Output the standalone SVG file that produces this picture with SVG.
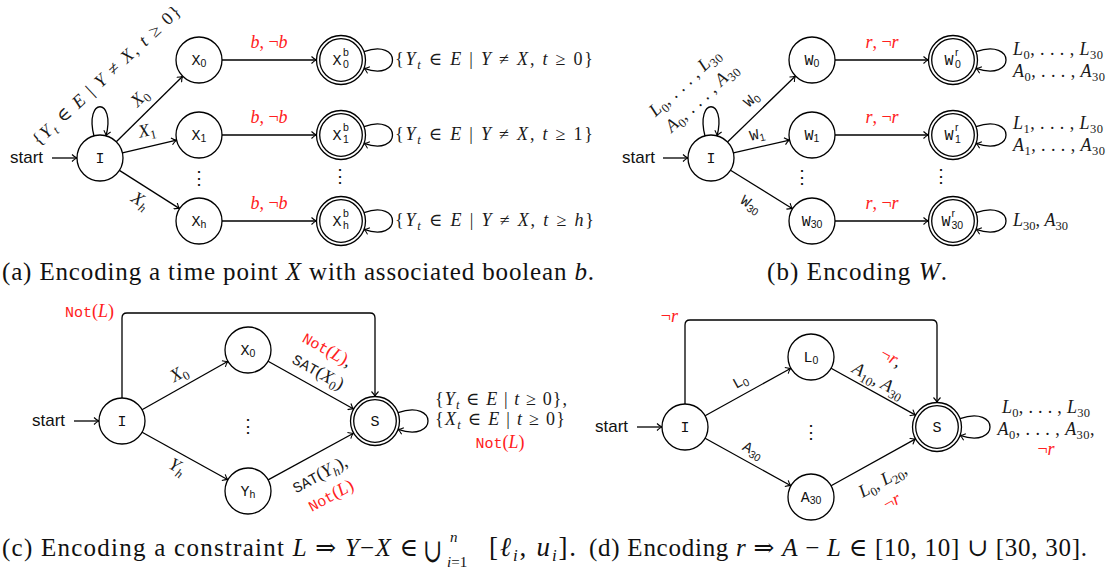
<svg xmlns="http://www.w3.org/2000/svg" width="1115" height="577" viewBox="0 0 1115 577">
<style>
.n{fill:#fff;stroke:#000;stroke-width:1.3}
.e{fill:none;stroke:#000;stroke-width:1.3;marker-end:url(#ar)}
.l{fill:none;stroke:#000;stroke-width:1.3}
.nl{font-family:"Liberation Mono",monospace;font-size:15px;fill:#111;text-anchor:middle}
.ns{font-family:"Liberation Sans",sans-serif;font-size:10.5px;fill:#111}
.m{font-family:"Liberation Serif","DejaVu Serif",serif;font-size:18px;fill:#1a1a1a}
.i{font-style:italic}
.s{font-size:12.5px}
.tt{font-family:"Liberation Mono",monospace;font-size:15px}
.tts{font-family:"Liberation Sans",sans-serif;font-size:10.5px}
.r{fill:#ff2020}
.st{font-family:"Liberation Sans",sans-serif;font-size:17px;fill:#111}
.cap{font-family:"Liberation Serif","DejaVu Serif",serif;font-size:25px;fill:#111}
.dots{font-family:"DejaVu Serif",serif;font-size:18px;fill:#111;text-anchor:middle}
</style>
<defs>
<marker id="ar" markerWidth="7" markerHeight="8" viewBox="-6 -4 7 8" refX="0" refY="0" orient="auto" markerUnits="userSpaceOnUse">
<path d="M-5,-3.5 Q-2,-0.6 0,0 Q-2,0.6 -5,3.5" fill="none" stroke="#000" stroke-width="1.1"/>
</marker>
</defs>

<g id="connectors">
<!-- (a) -->
<path class="e" d="M52,158 H77"/>
<path class="e" d="M94,136 C84,97 116,97 106,136"/>
<path class="e" d="M116.3,141.8 L182.7,76.2"/>
<path class="e" d="M122.4,152.8 L176.6,140.2"/>
<path class="e" d="M119.4,170.4 L179.6,208.6"/>
<path class="e" d="M222,60 H316.5"/>
<path class="e" d="M222,135 H316.5"/>
<path class="e" d="M222,221 H316.5"/>
<path class="e" d="M364,51.6 C402,38 402,82 364,68.4"/>
<path class="e" d="M364,126.6 C402,113 402,157 364,143.4"/>
<path class="e" d="M364,212.6 C402,199 402,243 364,229.4"/>
<!-- (b) -->
<path class="e" d="M663,158 H688"/>
<path class="e" d="M705,136 C695,97 727,97 717,136"/>
<path class="e" d="M727.5,142 L795.5,76"/>
<path class="e" d="M733.4,152.9 L789.6,140.1"/>
<path class="e" d="M730.5,170.2 L792.5,208.8"/>
<path class="e" d="M835,60 H928.5"/>
<path class="e" d="M835,135 H928.5"/>
<path class="e" d="M835,221 H928.5"/>
<path class="e" d="M976,51.6 C1016,38 1016,82 976,68.4"/>
<path class="e" d="M976,126.6 C1016,113 1016,157 976,143.4"/>
<path class="e" d="M976,212.6 C1016,199 1016,243 976,229.4"/>
<!-- (c) -->
<path class="e" d="M74,421 H99"/>
<path class="e" d="M142,409.7 L228,361.3"/>
<path class="e" d="M142.1,432.2 L227.9,479.8"/>
<path class="e" d="M268.1,361.2 L353.6,409"/>
<path class="e" d="M268.1,479.9 L353.5,433.2"/>
<path class="e" d="M122,398 V318 Q122,313 127,313 H370 Q375,313 375,318 V396.5"/>
<path class="e" d="M398,412.6 C438,399 438,443 398,429.4"/>
<!-- (d) -->
<path class="e" d="M637,427 H662"/>
<path class="e" d="M705.1,415.8 L790.9,368.2"/>
<path class="e" d="M705.1,438.2 L790.9,485.8"/>
<path class="e" d="M831.1,368.2 L915.6,415.1"/>
<path class="e" d="M831.1,485.8 L915.6,438.9"/>
<path class="e" d="M685,404 V325 Q685,320 690,320 H932 Q937,320 937,325 V402.5"/>
<path class="e" d="M960,418.6 C1000,405 1000,449 960,435.4"/>
</g>

<!-- ===== (a) nodes ===== -->
<g id="a-I"><circle class="n" cx="100" cy="158" r="23"/><text class="nl" x="100" y="163">I</text></g>
<g id="a-X0"><circle class="n" cx="199" cy="60" r="23"/><text class="nl" x="199" y="65">X<tspan class="ns" dy="2">0</tspan></text></g>
<g id="a-X1"><circle class="n" cx="199" cy="135" r="23"/><text class="nl" x="199" y="140">X<tspan class="ns" dy="2">1</tspan></text></g>
<g id="a-Xh"><circle class="n" cx="199" cy="221" r="23"/><text class="nl" x="199" y="226">X<tspan class="ns" dy="2">h</tspan></text></g>
<g id="a-X0b"><circle class="n" cx="341" cy="60" r="24.5"/><circle class="l" cx="341" cy="60" r="21.3"/><text class="nl" x="337" y="65">X</text><text class="ns" x="343" y="56">b</text><text class="ns" x="343" y="68">0</text></g>
<g id="a-X1b"><circle class="n" cx="341" cy="135" r="24.5"/><circle class="l" cx="341" cy="135" r="21.3"/><text class="nl" x="337" y="140">X</text><text class="ns" x="343" y="131">b</text><text class="ns" x="343" y="143">1</text></g>
<g id="a-Xhb"><circle class="n" cx="341" cy="221" r="24.5"/><circle class="l" cx="341" cy="221" r="21.3"/><text class="nl" x="337" y="226">X</text><text class="ns" x="343" y="217">b</text><text class="ns" x="343" y="229">h</text></g>
<g id="a-labels">
<text class="st" x="10" y="163">start</text>
<text class="dots" x="199" y="184">⋮</text>
<text class="dots" x="340" y="182">⋮</text>
<text class="m" transform="translate(107,76) rotate(-43)" y="5" text-anchor="middle" textLength="196" lengthAdjust="spacing">{<tspan class="i">Y</tspan><tspan class="s i" dy="4">t</tspan><tspan dy="-4"> ∈ </tspan><tspan class="i">E</tspan> | <tspan class="i">Y</tspan> ≠ <tspan class="i">X</tspan>, <tspan class="i">t</tspan> ≥ 0}</text>
<text class="m" transform="translate(140,98) rotate(-45)" y="5" text-anchor="middle"><tspan class="i">X</tspan><tspan class="s" dy="4">0</tspan></text>
<text class="m" transform="translate(147,131) rotate(-13)" y="5" text-anchor="middle"><tspan class="i">X</tspan><tspan class="s" dy="4">1</tspan></text>
<text class="m" transform="translate(140,201) rotate(32.5)" y="5" text-anchor="middle"><tspan class="i">X</tspan><tspan class="s i" dy="4">h</tspan></text>
<text class="m r" x="269" y="48" text-anchor="middle"><tspan class="i">b</tspan>, ¬<tspan class="i">b</tspan></text>
<text class="m r" x="269" y="123" text-anchor="middle"><tspan class="i">b</tspan>, ¬<tspan class="i">b</tspan></text>
<text class="m r" x="269" y="209" text-anchor="middle"><tspan class="i">b</tspan>, ¬<tspan class="i">b</tspan></text>
<text class="m" x="395" y="65" textLength="198" lengthAdjust="spacing">{<tspan class="i">Y</tspan><tspan class="s i" dy="4">t</tspan><tspan dy="-4"> ∈ </tspan><tspan class="i">E</tspan> | <tspan class="i">Y</tspan> ≠ <tspan class="i">X</tspan>, <tspan class="i">t</tspan> ≥ 0}</text>
<text class="m" x="395" y="140" textLength="198" lengthAdjust="spacing">{<tspan class="i">Y</tspan><tspan class="s i" dy="4">t</tspan><tspan dy="-4"> ∈ </tspan><tspan class="i">E</tspan> | <tspan class="i">Y</tspan> ≠ <tspan class="i">X</tspan>, <tspan class="i">t</tspan> ≥ 1}</text>
<text class="m" x="395" y="226" textLength="199" lengthAdjust="spacing">{<tspan class="i">Y</tspan><tspan class="s i" dy="4">t</tspan><tspan dy="-4"> ∈ </tspan><tspan class="i">E</tspan> | <tspan class="i">Y</tspan> ≠ <tspan class="i">X</tspan>, <tspan class="i">t</tspan> ≥ <tspan class="i">h</tspan>}</text>
</g>

<!-- ===== (b) nodes ===== -->
<g id="b-I"><circle class="n" cx="711" cy="158" r="23"/><text class="nl" x="711" y="163">I</text></g>
<g id="b-W0"><circle class="n" cx="812" cy="60" r="23"/><text class="nl" x="812" y="65">W<tspan class="ns" dy="2">0</tspan></text></g>
<g id="b-W1"><circle class="n" cx="812" cy="135" r="23"/><text class="nl" x="812" y="140">W<tspan class="ns" dy="2">1</tspan></text></g>
<g id="b-W30"><circle class="n" cx="812" cy="221" r="23"/><text class="nl" x="812" y="226">W<tspan class="ns" dy="2">30</tspan></text></g>
<g id="b-W0r"><circle class="n" cx="953" cy="60" r="24.5"/><circle class="l" cx="953" cy="60" r="21.3"/><text class="nl" x="949" y="65">W</text><text class="ns" x="955" y="56">r</text><text class="ns" x="955" y="68">0</text></g>
<g id="b-W1r"><circle class="n" cx="953" cy="135" r="24.5"/><circle class="l" cx="953" cy="135" r="21.3"/><text class="nl" x="949" y="140">W</text><text class="ns" x="955" y="131">r</text><text class="ns" x="955" y="143">1</text></g>
<g id="b-W30r"><circle class="n" cx="953" cy="221" r="24.5"/><circle class="l" cx="953" cy="221" r="21.3"/><text class="nl" x="946" y="226">W</text><text class="ns" x="951.5" y="217">r</text><text class="ns" x="951.5" y="229">30</text></g>
<g id="b-labels">
<text class="st" x="622" y="163">start</text>
<text class="dots" x="802" y="183">⋮</text>
<text class="dots" x="941" y="182">⋮</text>
<text class="m" transform="translate(685,83) rotate(-43)" y="5" text-anchor="middle" textLength="90" lengthAdjust="spacing"><tspan class="i">L</tspan><tspan class="s" dy="4">0</tspan><tspan dy="-4">, . . . , </tspan><tspan class="i">L</tspan><tspan class="s" dy="4">30</tspan></text>
<text class="m" transform="translate(702,98) rotate(-43)" y="5" text-anchor="middle" textLength="92" lengthAdjust="spacing"><tspan class="i">A</tspan><tspan class="s" dy="4">0</tspan><tspan dy="-4">, . . . , </tspan><tspan class="i">A</tspan><tspan class="s" dy="4">30</tspan></text>
<text class="m" transform="translate(751,99) rotate(-43.5)" y="5" text-anchor="middle"><tspan class="tt">W</tspan><tspan class="tts" dy="3">0</tspan></text>
<text class="m" transform="translate(757,134) rotate(-14)" y="5" text-anchor="middle"><tspan class="tt">W</tspan><tspan class="tts" dy="3">1</tspan></text>
<text class="m" transform="translate(751,204) rotate(32)" y="5" text-anchor="middle"><tspan class="tt">W</tspan><tspan class="tts" dy="3">30</tspan></text>
<text class="m r" x="882" y="48" text-anchor="middle"><tspan class="i">r</tspan>, ¬<tspan class="i">r</tspan></text>
<text class="m r" x="882" y="123" text-anchor="middle"><tspan class="i">r</tspan>, ¬<tspan class="i">r</tspan></text>
<text class="m r" x="882" y="209" text-anchor="middle"><tspan class="i">r</tspan>, ¬<tspan class="i">r</tspan></text>
<text class="m" x="1013" y="55" textLength="90" lengthAdjust="spacing"><tspan class="i">L</tspan><tspan class="s" dy="4">0</tspan><tspan dy="-4">, . . . , </tspan><tspan class="i">L</tspan><tspan class="s" dy="4">30</tspan></text>
<text class="m" x="1013" y="77" textLength="92" lengthAdjust="spacing"><tspan class="i">A</tspan><tspan class="s" dy="4">0</tspan><tspan dy="-4">, . . . , </tspan><tspan class="i">A</tspan><tspan class="s" dy="4">30</tspan></text>
<text class="m" x="1013" y="129" textLength="90" lengthAdjust="spacing"><tspan class="i">L</tspan><tspan class="s" dy="4">1</tspan><tspan dy="-4">, . . . , </tspan><tspan class="i">L</tspan><tspan class="s" dy="4">30</tspan></text>
<text class="m" x="1013" y="151" textLength="92" lengthAdjust="spacing"><tspan class="i">A</tspan><tspan class="s" dy="4">1</tspan><tspan dy="-4">, . . . , </tspan><tspan class="i">A</tspan><tspan class="s" dy="4">30</tspan></text>
<text class="m" x="1013" y="226"><tspan class="i">L</tspan><tspan class="s" dy="4">30</tspan><tspan dy="-4">, </tspan><tspan class="i">A</tspan><tspan class="s" dy="4">30</tspan></text>
</g>

<!-- ===== (c) nodes ===== -->
<g id="c-I"><circle class="n" cx="122" cy="421" r="23"/><text class="nl" x="122" y="426">I</text></g>
<g id="c-X0"><circle class="n" cx="248" cy="350" r="23"/><text class="nl" x="248" y="355">X<tspan class="ns" dy="2">0</tspan></text></g>
<g id="c-Yh"><circle class="n" cx="248" cy="491" r="23"/><text class="nl" x="248" y="496">Y<tspan class="ns" dy="2">h</tspan></text></g>
<g id="c-S"><circle class="n" cx="375" cy="421" r="24.5"/><circle class="l" cx="375" cy="421" r="21.3"/><text class="nl" x="375" y="426">S</text></g>
<g id="c-labels">
<text class="st" x="32" y="426">start</text>
<text class="dots" x="248" y="432">⋮</text>
<text class="m r" x="114" y="317" text-anchor="end"><tspan class="tt">Not</tspan>(<tspan class="i">L</tspan>)</text>
<text class="m" transform="translate(179,374) rotate(-29)" y="5" text-anchor="middle"><tspan class="i">X</tspan><tspan class="s" dy="4">0</tspan></text>
<text class="m" transform="translate(177,467) rotate(29)" y="5" text-anchor="middle"><tspan class="i">Y</tspan><tspan class="s i" dy="4">h</tspan></text>
<text class="m" transform="translate(327,350) rotate(29.5)" y="5" text-anchor="middle"><tspan class="tt r">Not</tspan><tspan class="r">(</tspan><tspan class="r i">L</tspan><tspan class="r">)</tspan>,</text>
<text class="m" transform="translate(318,372) rotate(29.5)" y="5" text-anchor="middle"><tspan class="tt">SAT</tspan>(<tspan class="i">X</tspan><tspan class="s" dy="4">0</tspan><tspan dy="-4">)</tspan></text>
<text class="m" transform="translate(320,475) rotate(-28)" y="5" text-anchor="middle"><tspan class="tt">SAT</tspan>(<tspan class="i">Y</tspan><tspan class="s i" dy="4">h</tspan><tspan dy="-4">),</tspan></text>
<text class="m r" transform="translate(331,496) rotate(-28)" y="5" text-anchor="middle"><tspan class="tt">Not</tspan>(<tspan class="i">L</tspan>)</text>
<text class="m" x="435" y="405" textLength="132" lengthAdjust="spacing">{<tspan class="i">Y</tspan><tspan class="s i" dy="4">t</tspan><tspan dy="-4"> ∈ </tspan><tspan class="i">E</tspan> | <tspan class="i">t</tspan> ≥ 0},</text>
<text class="m" x="435" y="425" textLength="130" lengthAdjust="spacing">{<tspan class="i">X</tspan><tspan class="s i" dy="4">t</tspan><tspan dy="-4"> ∈ </tspan><tspan class="i">E</tspan> | <tspan class="i">t</tspan> ≥ 0}</text>
<text class="m r" x="500" y="448" text-anchor="middle"><tspan class="tt">Not</tspan>(<tspan class="i">L</tspan>)</text>
</g>

<!-- ===== (d) nodes ===== -->
<g id="d-I"><circle class="n" cx="685" cy="427" r="23"/><text class="nl" x="685" y="432">I</text></g>
<g id="d-L0"><circle class="n" cx="811" cy="357" r="23"/><text class="nl" x="811" y="362">L<tspan class="ns" dy="2">0</tspan></text></g>
<g id="d-A30"><circle class="n" cx="811" cy="497" r="23"/><text class="nl" x="811" y="502">A<tspan class="ns" dy="2">30</tspan></text></g>
<g id="d-S"><circle class="n" cx="937" cy="427" r="24.5"/><circle class="l" cx="937" cy="427" r="21.3"/><text class="nl" x="937" y="432">S</text></g>
<g id="d-labels">
<text class="st" x="595" y="432">start</text>
<text class="dots" x="811" y="438">⋮</text>
<text class="m r i" x="678" y="322" text-anchor="end"><tspan style="font-style:normal">¬</tspan>r</text>
<text class="m" transform="translate(740,381) rotate(-29)" y="5" text-anchor="middle"><tspan class="tt">L</tspan><tspan class="tts" dy="3">0</tspan></text>
<text class="m" transform="translate(753,450) rotate(29)" y="5" text-anchor="middle"><tspan class="tt">A</tspan><tspan class="tts" dy="3">30</tspan></text>
<text class="m" transform="translate(891,358) rotate(29)" y="5" text-anchor="middle"><tspan class="r">¬</tspan><tspan class="r i">r</tspan>,</text>
<text class="m" transform="translate(878,381) rotate(29)" y="5" text-anchor="middle"><tspan class="i">A</tspan><tspan class="s" dy="4">10</tspan><tspan dy="-4">, </tspan><tspan class="i">A</tspan><tspan class="s" dy="4">30</tspan></text>
<text class="m" transform="translate(883,481) rotate(-29)" y="5" text-anchor="middle"><tspan class="i">L</tspan><tspan class="s" dy="4">0</tspan><tspan dy="-4">, </tspan><tspan class="i">L</tspan><tspan class="s" dy="4">20</tspan><tspan dy="-4">,</tspan></text>
<text class="m r" transform="translate(892,502) rotate(-29)" y="5" text-anchor="middle">¬<tspan class="i">r</tspan></text>
<text class="m" x="1046" y="413" text-anchor="middle" textLength="88" lengthAdjust="spacing"><tspan class="i">L</tspan><tspan class="s" dy="4">0</tspan><tspan dy="-4">, . . . , </tspan><tspan class="i">L</tspan><tspan class="s" dy="4">30</tspan></text>
<text class="m" x="1046" y="435" text-anchor="middle" textLength="97" lengthAdjust="spacing"><tspan class="i">A</tspan><tspan class="s" dy="4">0</tspan><tspan dy="-4">, . . . , </tspan><tspan class="i">A</tspan><tspan class="s" dy="4">30</tspan><tspan dy="-4">,</tspan></text>
<text class="m r" x="1046" y="455" text-anchor="middle">¬<tspan class="i">r</tspan></text>
</g>

<!-- ===== captions ===== -->
<g id="captions">
<text class="cap" x="2" y="280" textLength="592" lengthAdjust="spacing">(a) Encoding a time point <tspan class="i">X</tspan> with associated boolean <tspan class="i">b</tspan>.</text>
<text class="cap" x="767" y="280" textLength="180" lengthAdjust="spacing">(b) Encoding <tspan class="i">W</tspan>.</text>
<text class="cap" x="2" y="556" textLength="416" lengthAdjust="spacing">(c) Encoding a constraint <tspan class="i">L</tspan> ⇒ <tspan class="i">Y</tspan>−<tspan class="i">X</tspan> ∈</text>
<text class="cap" transform="translate(423,562) scale(1,1.45)" style="font-size:23px">∪</text>
<text class="cap i" x="450" y="542" style="font-size:15px">n</text>
<text class="cap" x="447" y="567" style="font-size:15px"><tspan class="i">i</tspan>=1</text>
<text class="cap" x="489" y="556" style="font-size:27px" textLength="87" lengthAdjust="spacing">[<tspan class="i">ℓ</tspan><tspan class="i" style="font-size:17px" dy="5">i</tspan><tspan dy="-5">, </tspan><tspan class="i">u</tspan><tspan class="i" style="font-size:17px" dy="5">i</tspan><tspan dy="-5">].</tspan></text>
<text class="cap" x="589" y="556" textLength="498" lengthAdjust="spacing">(d) Encoding <tspan class="i">r</tspan> ⇒ <tspan class="i">A</tspan> − <tspan class="i">L</tspan> ∈ [10, 10] ∪ [30, 30].</text>
</g>
</svg>
